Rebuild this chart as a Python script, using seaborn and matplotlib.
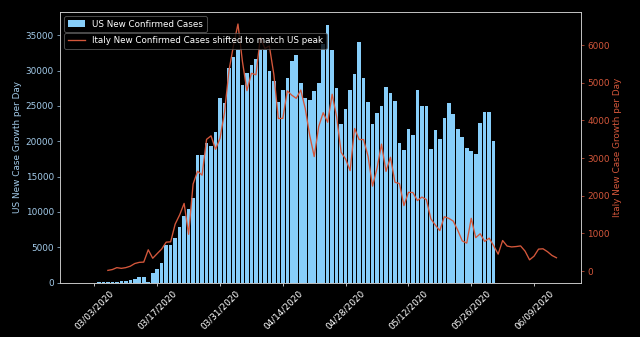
import matplotlib
matplotlib.use("Agg")
import matplotlib.pyplot as plt
import matplotlib.dates as mdates
import numpy as np
import pandas as pd
import seaborn as sns

# ---------------- data ----------------
us_start = "2020-03-01"
us_new_cases = [
    10, 20, 25, 35, 75, 60, 110, 115, 170, 280,
    450, 480, 760, 790, 120, 1350, 1950, 2800, 5300, 5300,
    6300, 7900, 9400, 10400, 12000, 18100, 18100, 19800, 19300, 21300,
    26100, 25400, 30400, 31900, 32900, 27900, 29600, 30800, 31600, 32900,
    32900, 30000, 28500, 25500, 27200, 29000, 31300, 32200, 28300, 26100,
    25800, 27100, 28300, 33700, 36500, 32900, 27600, 22500, 24500, 27300,
    29500, 34100, 29000, 25500, 22400, 24000, 25000, 27700, 26800, 25700,
    19700, 18700, 21800, 20900, 27300, 25000, 25000, 18900, 21600, 20300,
    23300, 25400, 23800, 21700, 20600, 19000, 18600, 18200, 22600, 24200,
    24200, 20000,
]

italy_start_shifted = "2020-03-06"
italy_new_cases = [
    20, 42, 93, 74, 93, 131, 202, 233, 240, 566,
    342, 466, 587, 769, 778, 1247, 1492, 1797, 977, 2313,
    2651, 2547, 3497, 3590, 3233, 3526, 4207, 5322, 5986, 6557,
    5560, 4789, 5249, 5210, 6203, 5909, 5974, 5217, 4050, 4053,
    4782, 4668, 4585, 4805, 4316, 3599, 3039, 3836, 4204, 3951,
    4694, 4092, 3153, 2972, 2667, 3786, 3493, 3491, 3047, 2256,
    2729, 3370, 2646, 3021, 2357, 2324, 1739, 2091, 2086, 1872,
    1965, 1900, 1389, 1221, 1075, 1444, 1401, 1327, 1083, 802,
    744, 1402, 888, 992, 789, 875, 675, 451, 813, 665,
    642, 652, 669, 531, 300, 397, 584, 593, 516, 416,
    355,
]

tick_dates = ["2020-03-03", "2020-03-17", "2020-03-31", "2020-04-14",
              "2020-04-28", "2020-05-12", "2020-05-26", "2020-06-09"]
tick_labels = ["03/03/2020", "03/17/2020", "03/31/2020", "04/14/2020",
               "04/28/2020", "05/12/2020", "05/26/2020", "06/09/2020"]

us_label = "US New Confirmed Cases"
italy_label = "Italy New Confirmed Cases shifted to match US peak"
left_ylabel = "US New Case Growth per Day"
right_ylabel = "Italy New Case Growth per Day"

# ---------------- styling ----------------
plt.style.use("dark_background")
plt.rcParams["font.family"] = ["DejaVu Sans"]

blue = "lightskyblue"
blue_text = "#a3cbea"
red = "#d4573b"

us_x = mdates.date2num(pd.date_range(us_start, periods=len(us_new_cases)))
it_x = mdates.date2num(pd.date_range(italy_start_shifted, periods=len(italy_new_cases)))

fig = plt.figure(figsize=(10, 337 / 64), dpi=64)
ax = fig.add_axes([60 / 640, 1 - 282.7 / 337, 521 / 640, 271 / 337])

sns.barplot(x=us_x, y=us_new_cases, native_scale=True, color=blue,
            saturation=1, errorbar=None, width=0.8, ax=ax,
            label=us_label)

ax2 = ax.twinx()
sns.lineplot(x=it_x, y=italy_new_cases, ax=ax2, color=red, lw=1.5,
             label=italy_label)

x0 = mdates.date2num(pd.Timestamp("2020-03-03"))
ax.set_xlim(x0 - 7.67, x0 + 108.47)
ax.set_xticks(mdates.date2num(pd.to_datetime(tick_dates)))
ax.set_xticklabels(tick_labels, rotation=45, ha="center")

ax.set_ylabel(left_ylabel, color=blue_text)
ax2.set_ylabel(right_ylabel, color=red)
ax.tick_params(axis="y", colors=blue_text)
ax2.tick_params(axis="y", colors=red)
ax.set_xlabel("")

for a in (ax, ax2):
    for s in a.spines.values():
        s.set_color("#cfcfcf")

leg1 = ax.legend(loc="upper left", fontsize=9.8, edgecolor="0.4")
ax2.legend(loc="upper left", bbox_to_anchor=(0, 0.9376), fontsize=9.8,
           edgecolor="0.4")

fig.savefig("out.png", dpi=64, facecolor="black")
